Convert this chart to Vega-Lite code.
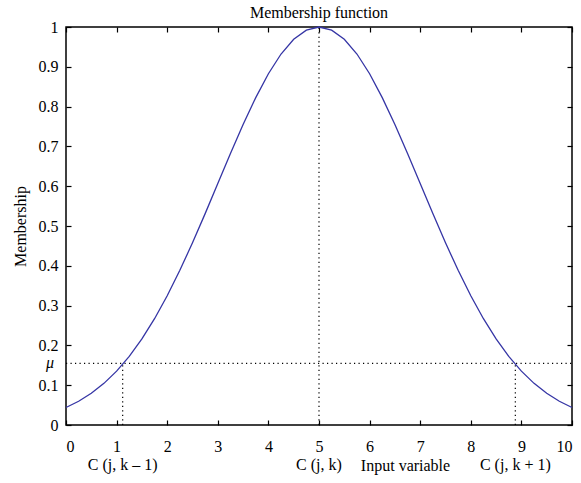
{
  "$schema": "https://vega.github.io/schema/vega-lite/v6.json",
  "width": 506,
  "height": 398,
  "autosize": {"type": "none"},
  "padding": {"left": 66, "top": 27, "right": 9, "bottom": 58},
  "config": {
    "font": "Liberation Serif",
    "view": {"stroke": "black", "strokeWidth": 1.5},
    "axis": {
      "labelFont": "Liberation Serif",
      "titleFont": "Liberation Serif",
      "labelFontSize": 16,
      "titleFontSize": 16,
      "titleFontWeight": "normal",
      "labelColor": "black",
      "titleColor": "black",
      "domain": false,
      "grid": false,
      "format": "~f"
    }
  },
  "title": {"text": "Membership function", "fontSize": 16, "fontWeight": "normal", "font": "Liberation Serif", "color": "black", "offset": 6, "dy": 8},
  "datasets": {
    "curve": [
      {"x": 0, "m": 0.0439}, {"x": 0.25, "m": 0.0596}, {"x": 0.5, "m": 0.0796}, {"x": 0.75, "m": 0.1046},
      {"x": 1, "m": 0.1353}, {"x": 1.25, "m": 0.1724}, {"x": 1.5, "m": 0.2163}, {"x": 1.75, "m": 0.2671},
      {"x": 2, "m": 0.3247}, {"x": 2.25, "m": 0.3886}, {"x": 2.5, "m": 0.4578}, {"x": 2.75, "m": 0.5311},
      {"x": 3, "m": 0.6065}, {"x": 3.25, "m": 0.6819}, {"x": 3.5, "m": 0.7548}, {"x": 3.75, "m": 0.8226},
      {"x": 4, "m": 0.8825}, {"x": 4.25, "m": 0.9321}, {"x": 4.5, "m": 0.9692}, {"x": 4.75, "m": 0.9922},
      {"x": 5, "m": 1.0}, {"x": 5.25, "m": 0.9922}, {"x": 5.5, "m": 0.9692}, {"x": 5.75, "m": 0.9321},
      {"x": 6, "m": 0.8825}, {"x": 6.25, "m": 0.8226}, {"x": 6.5, "m": 0.7548}, {"x": 6.75, "m": 0.6819},
      {"x": 7, "m": 0.6065}, {"x": 7.25, "m": 0.5311}, {"x": 7.5, "m": 0.4578}, {"x": 7.75, "m": 0.3886},
      {"x": 8, "m": 0.3247}, {"x": 8.25, "m": 0.2671}, {"x": 8.5, "m": 0.2163}, {"x": 8.75, "m": 0.1724},
      {"x": 9, "m": 0.1353}, {"x": 9.25, "m": 0.1046}, {"x": 9.5, "m": 0.0796}, {"x": 9.75, "m": 0.0596},
      {"x": 10, "m": 0.0439}
    ],
    "guides": [
      {"x": 1.12, "x2": 1.12, "y": 0, "y2": 0.155},
      {"x": 5, "x2": 5, "y": 0, "y2": 1},
      {"x": 8.88, "x2": 8.88, "y": 0, "y2": 0.155},
      {"x": 0, "x2": 10, "y": 0.155, "y2": 0.155}
    ],
    "labels": [
      {"x": 1.12, "y": 0, "label": "C (j, k – 1)"},
      {"x": 5, "y": 0, "label": "C (j, k)"},
      {"x": 8.88, "y": 0, "label": "C (j, k + 1)"}
    ],
    "mu": [{"x": 0, "y": 0.155, "label": "μ"}]
  },
  "layer": [
    {
      "data": {"name": "guides"},
      "mark": {"type": "rule", "color": "black", "strokeWidth": 1.2, "strokeDash": [1.2, 3.3]},
      "encoding": {
        "x": {"field": "x", "type": "quantitative", "scale": {"domain": [0, 10], "nice": false}, "axis": {"orient": "top", "labels": false, "title": null, "values": [0,1,2,3,4,5,6,7,8,9,10], "ticks": true, "tickSize": 5, "tickWidth": 1.2, "tickColor": "black", "offset": -5}},
        "x2": {"field": "x2"},
        "y": {"field": "y", "type": "quantitative", "scale": {"domain": [0, 1], "nice": false}, "axis": {"orient": "right", "labels": false, "title": null, "values": [0,0.1,0.2,0.3,0.4,0.5,0.6,0.7,0.8,0.9,1], "ticks": true, "tickSize": 5, "tickWidth": 1.2, "tickColor": "black", "offset": -5}},
        "y2": {"field": "y2"}
      }
    },
    {
      "data": {"name": "curve"},
      "mark": {"type": "line", "color": "#3535a5", "strokeWidth": 1.3},
      "encoding": {
        "x": {"field": "x", "type": "quantitative", "axis": {"orient": "bottom", "title": "Input variable", "values": [0,1,2,3,4,5,6,7,8,9,10], "ticks": true, "tickSize": 5, "tickWidth": 1.2, "tickColor": "black", "offset": -5, "labelPadding": 13, "titleX": 339, "titleY": 45, "titleBaseline": "middle"}},
        "y": {"field": "m", "type": "quantitative", "axis": {"orient": "left", "title": "Membership", "values": [0,0.1,0.2,0.3,0.4,0.5,0.6,0.7,0.8,0.9,1], "ticks": true, "tickSize": 5, "tickWidth": 1.2, "tickColor": "black", "offset": -5, "labelPadding": 8, "titlePadding": 10}}
      }
    },
    {
      "data": {"name": "labels"},
      "mark": {"type": "text", "fontSize": 16, "font": "Liberation Serif", "color": "black", "dy": 40, "baseline": "middle"},
      "encoding": {
        "x": {"field": "x", "type": "quantitative", "axis": null},
        "y": {"field": "y", "type": "quantitative", "axis": null},
        "text": {"field": "label"}
      }
    },
    {
      "data": {"name": "mu"},
      "mark": {"type": "text", "fontSize": 16, "font": "Liberation Serif", "fontStyle": "italic", "color": "black", "dx": -12, "align": "right", "baseline": "middle"},
      "encoding": {
        "x": {"field": "x", "type": "quantitative", "axis": null},
        "y": {"field": "y", "type": "quantitative", "axis": null},
        "text": {"field": "label"}
      }
    }
  ],
  "resolve": {"axis": {"x": "independent", "y": "independent"}}
}
